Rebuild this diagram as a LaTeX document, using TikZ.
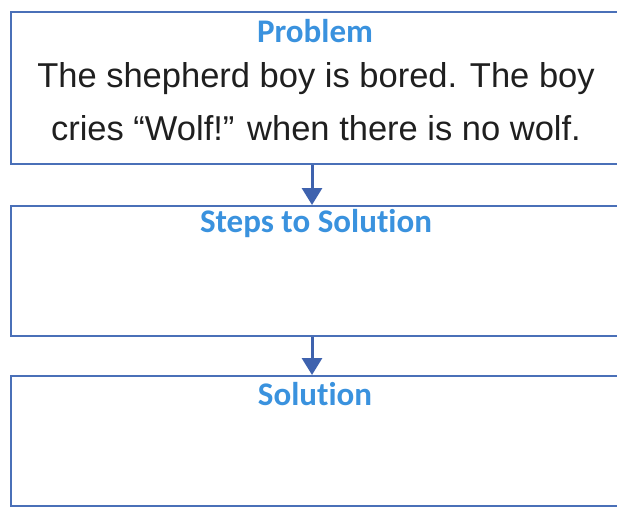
\documentclass[tikz,border=0pt]{standalone}
\usepackage{fontspec}
\setmainfont{Liberation Sans}
\newfontfamily\headfont[Ligatures={NoCommon}]{Carlito}
\usetikzlibrary{arrows.meta}
\definecolor{boxblue}{HTML}{4A70B8}
\definecolor{arrblue}{HTML}{3E62AE}
\definecolor{headblue}{HTML}{3A92DE}
\tikzset{
  box/.style={draw=boxblue, line width=1.8pt, anchor=north west, inner sep=0pt},
  head/.style={text=headblue, font=\headfont\bfseries\fontsize{33}{36}\selectfont, inner sep=0pt},
  body/.style={font=\fontsize{34.5}{53}\selectfont, align=center, inner sep=0pt, text=black!88},
  arr/.style={draw=arrblue, line width=3pt, -{Triangle[length=17pt,width=20pt]}, shorten >=0pt}
}
\begin{document}
\begin{tikzpicture}[x=1pt,y=-1pt]
\useasboundingbox (0,0) rectangle (617,506);
\clip (0,0) rectangle (617,506);
\node[box, minimum width=640pt, minimum height=152pt] (p) at (10,11) {};
\node[box, minimum width=640pt, minimum height=130pt] (s) at (10,205) {};
\node[box, minimum width=640pt, minimum height=130pt] (o) at (10,375) {};
\coordinate (ax) at (312,0);
\node[head] (ph) at (315,31) {Problem};
\node[body] (pt) at (316,102) {The shepherd boy is bored. The boy\\cries ``Wolf!'' when there is no wolf.};
\node[head] (sh) at (316,224) {Steps to Solution};
\node[head] (oh) at (315,394) {Solution};
\draw[arr] (p.south -| ax) -- (s.north -| ax);
\draw[arr] (s.south -| ax) -- (o.north -| ax);
\end{tikzpicture}
\end{document}
